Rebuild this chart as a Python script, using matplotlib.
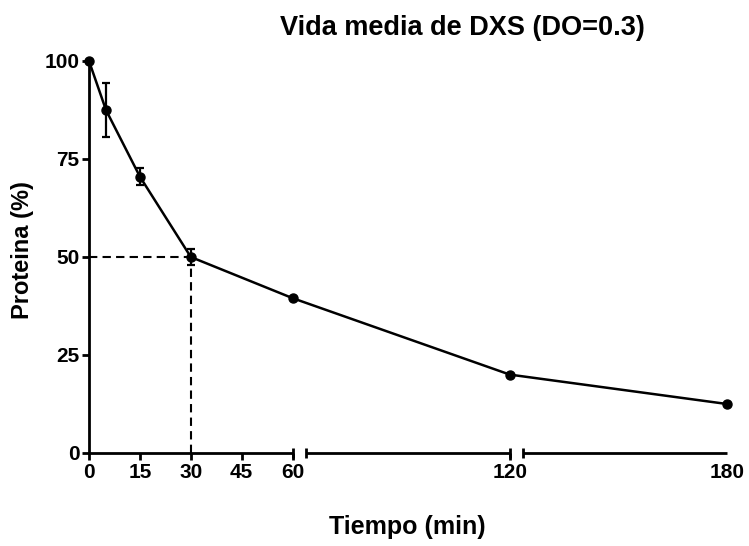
import matplotlib
matplotlib.use("Agg")
import matplotlib.pyplot as plt
import numpy as np

# half-life measurement of DXS protein
tiempo = [0, 5, 15, 30, 60, 120, 180]
proteina = [100, 87.5, 70.5, 50, 39.5, 20, 12.5]
error = [0, 7, 2.2, 2, 0, 0, 0]

x_ticks = [0, 15, 30, 45, 60, 120, 180]
y_ticks = [0, 25, 50, 75, 100]
segments = [(0, 60), (60, 120), (120, 180)]
gap = 4.0

plt.rcParams['font.family'] = ['Liberation Sans', 'DejaVu Sans']
plt.rcParams['font.weight'] = 'bold'


def forward(x):
    x = np.asarray(x, dtype=float)
    return np.where(x <= 60, x, np.where(x <= 120, x + gap, x + 2 * gap))


def inverse(t):
    t = np.asarray(t, dtype=float)
    return np.where(t <= 60, t, np.where(t <= 120 + gap, t - gap, t - 2 * gap))


fig = plt.figure(figsize=(7.49, 5.46), dpi=100)
ax = fig.add_axes([89 / 749, 1 - 453 / 546, (727 - 89) / 749, (453 - 61) / 546])
ax.set_xscale('function', functions=(forward, inverse))
ax.set_xlim(0, 180)
ax.set_ylim(0, 100)

# dashed guide at 50 %
ax.plot([0, 30], [50, 50], color='black', lw=1.5, ls=(0, (4, 2.5)), clip_on=False)
ax.plot([30, 30], [0, 50], color='black', lw=1.5, ls=(0, (4, 2.5)), clip_on=False)

ax.errorbar(tiempo, proteina, yerr=error, color='black', lw=1.8, marker='o',
            markersize=6.5, capsize=3, elinewidth=1.6, capthick=1.6, clip_on=False, zorder=3)

# broken x axis drawn as separate segments
for i, (lo, hi) in enumerate(segments):
    start = lo + 1e-6 if i > 0 else lo
    ax.plot([start, hi], [0, 0], color='black', lw=2, clip_on=False, solid_capstyle='butt')
    if i > 0:
        ax.plot([start], [0], marker='|', color='black', markersize=7, mew=2, clip_on=False)
    if i < len(segments) - 1:
        ax.plot([hi], [0], marker='|', color='black', markersize=7, mew=2, clip_on=False)

ax.spines['top'].set_visible(False)
ax.spines['right'].set_visible(False)
ax.spines['bottom'].set_visible(False)
ax.spines['left'].set_linewidth(2)

ax.set_xticks(x_ticks)
ax.set_xticklabels([str(v) for v in x_ticks])
ax.set_yticks(y_ticks)
ax.set_yticklabels([str(v) for v in y_ticks])
ax.tick_params(axis='both', direction='out', length=5, width=2, labelsize=15, pad=2)
ax.xaxis.get_major_ticks()[-1].tick1line.set_visible(False)
for lab in ax.get_xticklabels() + ax.get_yticklabels():
    lab.set_fontweight('bold')

fig.text(462 / 749, 1 - 28 / 546, 'Vida media de DXS (DO=0.3)', ha='center', va='center',
         fontsize=19.5, fontweight='bold')
fig.text(407 / 749, 1 - 527 / 546, 'Tiempo (min)', ha='center', va='center',
         fontsize=18, fontweight='bold')
fig.text(23 / 749, 1 - 250 / 546, 'Proteina (%)', ha='center', va='center',
         rotation=90, fontsize=17, fontweight='bold')

fig.savefig('out.png', dpi=100)
